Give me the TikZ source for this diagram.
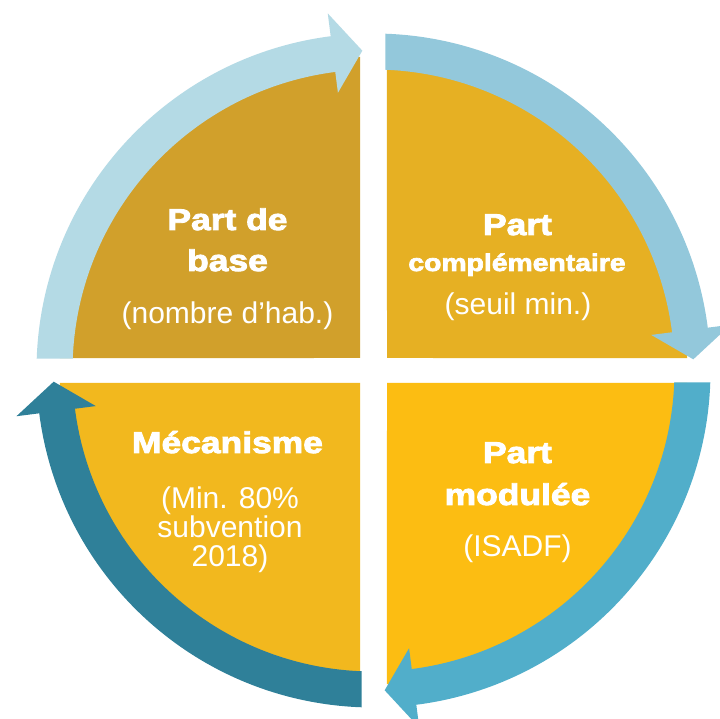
\documentclass[tikz,border=0pt]{standalone}
\usepackage{fontspec}
\setmainfont{Liberation Sans}
\newfontfamily\headfont[FakeStretch=1.18,BoldFeatures={FakeBold=3}]{Liberation Sans}

\definecolor{qTL}{HTML}{D1A02B}
\definecolor{qTR}{HTML}{E6B023}
\definecolor{qBR}{HTML}{FCBD12}
\definecolor{qBL}{HTML}{F2B81E}
\definecolor{aTL}{HTML}{B4DAE5}
\definecolor{aTR}{HTML}{93C8DB}
\definecolor{aBR}{HTML}{51AECA}
\definecolor{aBL}{HTML}{2F8099}

% clockwise ring arrow covering one quarter, starting just past axis angle #1
\newcommand\ringarrow[2]{%
  \fill[#2] ({#1-2.04}:337) arc[start angle={#1-2.04}, end angle={#1-82.7}, radius=337]
    -- ({#1-82.7}:360) -- ({#1-88}:320) -- ({#1-82.7}:280) -- ({#1-82.7}:301)
    arc[start angle={#1-82.7}, end angle={#1-2.28}, radius=301] -- cycle;}

\tikzset{
  title/.style={text=white, anchor=base, inner sep=0pt,
    font=\headfont\bfseries\fontsize{30}{30}\selectfont},
  subtitle/.style={text=white, anchor=base, inner sep=0pt,
    font=\headfont\bfseries\fontsize{24}{24}\selectfont},
  note/.style={text=white, anchor=base, inner sep=0pt,
    font=\fontsize{30}{30}\selectfont},
}

\begin{document}
\begin{tikzpicture}[x=1pt,y=1pt]
\useasboundingbox (0,0) rectangle (720,718);
\fill[white] (0,0) rectangle (720,718);

\begin{scope}[shift={(373.5,347.5)}]
  % the four quarter sectors
  \fill[qTL] (-13.5,12.5) -- (177.72:314) arc[start angle=177.72, end angle=92.46, radius=314] -- cycle;
  \fill[qTR] (13.5,12.5) -- (87.54:314) arc[start angle=87.54, end angle=2.28, radius=314] -- cycle;
  \fill[qBR] (13.5,-12.5) -- (-2.28:314) arc[start angle=-2.28, end angle=-87.54, radius=314] -- cycle;
  \fill[qBL] (-13.5,-12.5) -- (-92.46:314) arc[start angle=-92.46, end angle=-177.72, radius=314] -- cycle;
  % the four ring arrows
  \ringarrow{180}{aTL}
  \ringarrow{90}{aTR}
  \ringarrow{0}{aBR}
  \ringarrow{-90}{aBL}
\end{scope}

% top left
\node[title] (tl1) at (227.5,488) {Part de};
\node[title] (tl2) at (227.5,447) {base};
\node[note]  (tl3) at (227.5,394) {(nombre d’hab.)};
% top right
\node[title]    (tr1) at (517.5,483) {Part};
\node[subtitle] (tr2) at (517,447) {complémentaire};
\node[note]     (tr3) at (518,403) {(seuil min.)};
% bottom left
\node[title] (bl1) at (227.5,265) {Mécanisme};
\node[note]  (bl2) at (230,209) {(Min. 80\%};
\node[note]  (bl3) at (230,180.5) {subvention};
\node[note]  (bl4) at (230,152) {2018)};
% bottom right
\node[title] (br1) at (517.5,255) {Part};
\node[title] (br2) at (517.5,213) {modulée};
\node[note]  (br3) at (517.5,162) {(ISADF)};
\end{tikzpicture}
\end{document}
